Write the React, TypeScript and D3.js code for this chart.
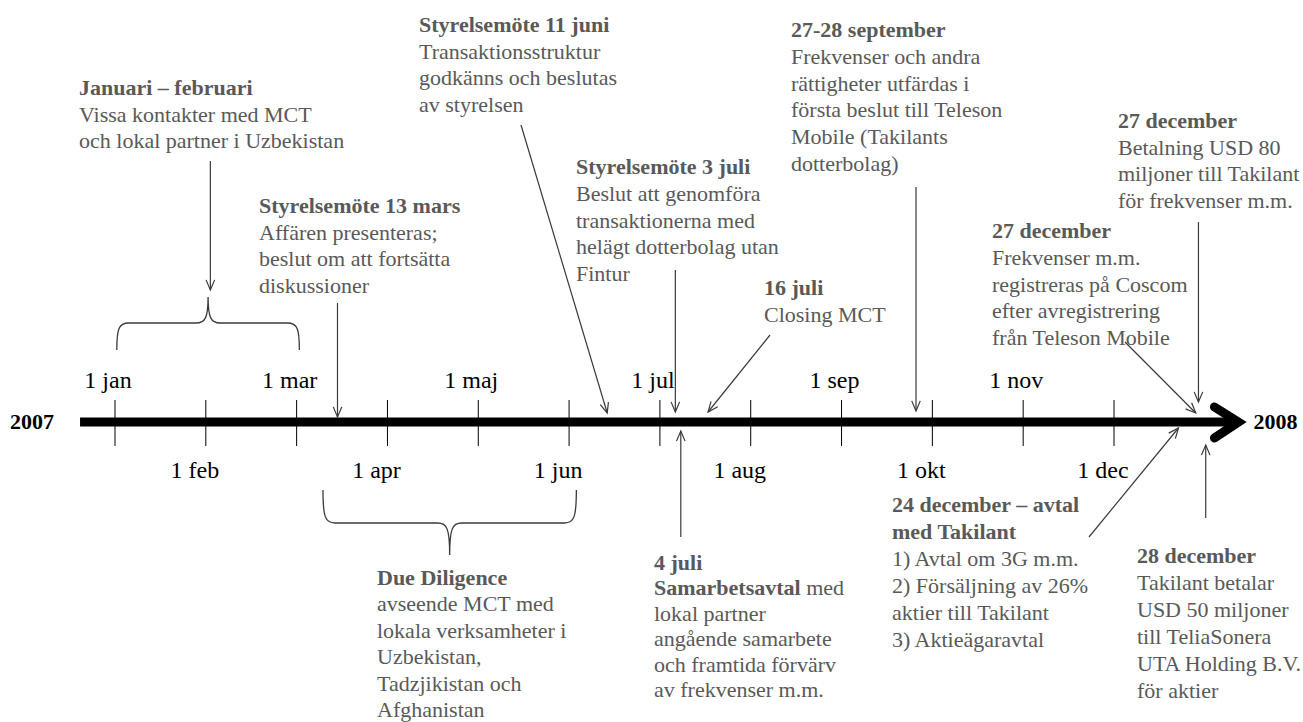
import React from 'react';
import * as d3 from 'd3';

const W = 1303;
const H = 722;

// axis ticks, one per month, evenly spaced
const months = ['1 jan', '1 feb', '1 mar', '1 apr', '1 maj', '1 jun', '1 jul', '1 aug', '1 sep', '1 okt', '1 nov', '1 dec'];
const yearStart = '2007';
const yearEnd = '2008';

// annotation texts, "**...**" is bold
const eventTexts = [
  ['**Januari – februari**', 'Vissa kontakter med MCT', 'och lokal partner i Uzbekistan'],
  ['**Styrelsemöte 13 mars**', 'Affären presenteras;', 'beslut om att fortsätta', 'diskussioner'],
  ['**Styrelsemöte 11 juni**', 'Transaktionsstruktur', 'godkänns och beslutas', 'av styrelsen'],
  ['**Styrelsemöte 3 juli**', 'Beslut att genomföra', 'transaktionerna med', 'helägt dotterbolag utan', 'Fintur'],
  ['**16 juli**', 'Closing MCT'],
  ['**27-28 september**', 'Frekvenser och andra', 'rättigheter utfärdas i', 'första beslut till Teleson', 'Mobile (Takilants', 'dotterbolag)'],
  ['**27 december**', 'Frekvenser m.m.', 'registreras på Coscom', 'efter avregistrering', 'från Teleson Mobile'],
  ['**27 december**', 'Betalning USD 80', 'miljoner till Takilant', 'för frekvenser m.m.'],
  ['**Due Diligence**', 'avseende MCT med', 'lokala verksamheter i', 'Uzbekistan,', 'Tadzjikistan och', 'Afghanistan'],
  ['**4 juli**', '**Samarbetsavtal** med', 'lokal partner', 'angående samarbete', 'och framtida förvärv', 'av frekvenser m.m.'],
  ['**24 december – avtal**', '**med Takilant**', '1) Avtal om 3G m.m.', '2) Försäljning av 26%', 'aktier till Takilant', '3) Aktieägaravtal'],
  ['**28 december**', 'Takilant betalar', 'USD 50 miljoner', 'till TeliaSonera', 'UTA Holding B.V.', 'för aktier'],
];

// where each event points on the axis, in months from 1 jan
const eventAt = [1.05, 2.45, 5.42, 6.17, 6.53, 8.82, 11.9, 11.93, 3.68, 6.23, 11.71, 12.01];

// bracketed periods, months from 1 jan
const periods = [[0.02, 2.03], [2.29, 5.08]];

// layout: text block [left, first baseline, line height]
const textPos = [
  [79, 95, 26.5], [259, 213, 26.7], [419, 32, 26.7], [576, 174, 26.8], [764, 295, 27],
  [791, 37, 26.8], [992, 238, 26.8], [1118, 128, 26.7], [377, 585, 26.4], [654, 570, 25.4],
  [892, 512, 27], [1137, 563, 27],
];
// layout: arrow tail [x or null for vertical, y] and tip y (null = no arrow)
const arrowTail: ([number | null, number] | null)[] = [
  [null, 161], [null, 303], [521, 125], [null, 270], [770, 335],
  [null, 187], [1125, 342], [null, 222], null, [null, 537],
  [1089, 537], [null, 518],
];
const arrowTipY = [290, 417, 413, 412, 412, 411, 413, 402, 0, 431, 428, 445];
// layout: braces [end y, middle y, tip y]
const braceY = [[350, 323, 297], [490, 523, 555]];

const axisY = 422;
const textColor = '#595959';
const font = '"Liberation Serif", "Times New Roman", serif';

function headPath(x1: number, y1: number, x2: number, y2: number) {
  const a = Math.atan2(y2 - y1, x2 - x1);
  const len = 11, ang = 0.4;
  const p = d3.path();
  p.moveTo(x2 - len * Math.cos(a - ang), y2 - len * Math.sin(a - ang));
  p.lineTo(x2, y2);
  p.lineTo(x2 - len * Math.cos(a + ang), y2 - len * Math.sin(a + ang));
  return p.toString();
}

function bracePath(x0: number, x1: number, yEnd: number, yMid: number, yTip: number) {
  const cx = (x0 + x1) / 2;
  const s = Math.sign(yTip - yMid);
  const p = d3.path();
  p.moveTo(x0, yEnd);
  p.bezierCurveTo(x0, yMid + (yEnd - yMid) * 0.2, x0 + 2, yMid, x0 + 12, yMid);
  p.lineTo(cx - 12, yMid);
  p.bezierCurveTo(cx - 3, yMid, cx, yMid + s * 5, cx, yTip);
  p.bezierCurveTo(cx, yMid + s * 5, cx + 3, yMid, cx + 12, yMid);
  p.lineTo(x1 - 12, yMid);
  p.bezierCurveTo(x1 - 2, yMid, x1, yMid + (yEnd - yMid) * 0.2, x1, yEnd);
  return p.toString();
}

function Line({ text }: { text: string }) {
  const parts = text.split('**');
  return (
    <>
      {parts.map((t, i) => t === '' ? null : (
        <tspan key={i} fontWeight={i % 2 === 1 ? 'bold' : 'normal'}>{t}</tspan>
      ))}
    </>
  );
}

export default function App() {
  const x = d3.scaleLinear().domain([0, 11]).range([115, 1114]);
  const axisStart = x(-0.385);
  const axisEnd = x(12.37);

  return (
    <div style={{ position: 'absolute', left: 0, top: 0, background: '#fff' }}>
      <svg width={W} height={H} style={{ display: 'block', fontFamily: font }}>
        <rect width={W} height={H} fill="#fff" />

        {/* main time axis */}
        <line x1={axisStart} x2={axisEnd} y1={axisY} y2={axisY} stroke="#000" strokeWidth={9} />
        <polyline
          points={`${axisEnd - 24},${axisY - 15} ${axisEnd},${axisY} ${axisEnd - 24},${axisY + 16}`}
          fill="none" stroke="#000" strokeWidth={9} strokeLinecap="round" strokeLinejoin="miter"
        />
        <text x={10} y={429} fontSize={22} fontWeight="bold" fill="#000">{yearStart}</text>
        <text x={axisEnd + 15} y={429} fontSize={22} fontWeight="bold" fill="#000">{yearEnd}</text>

        {months.map((m, i) => (
          <g key={m}>
            <line x1={x(i)} x2={x(i)} y1={400} y2={446} stroke="#000" strokeWidth={1} />
            <text
              x={x(i) + (i % 2 === 0 ? -7 : -11)}
              y={i % 2 === 0 ? 388 : 478}
              fontSize={24} textAnchor="middle" fill="#000"
            >{m}</text>
          </g>
        ))}

        {/* braces */}
        {periods.map((p, i) => (
          <path key={i} d={bracePath(x(p[0]), x(p[1]), braceY[i][0], braceY[i][1], braceY[i][2])}
            fill="none" stroke="#3a3a3a" strokeWidth={1.3} />
        ))}

        {/* arrows */}
        {eventAt.map((v, i) => {
          const tail = arrowTail[i];
          if (!tail) return null;
          const tx = x(v);
          const ty = arrowTipY[i];
          const sx = tail[0] === null ? tx : tail[0];
          const sy = tail[1];
          return (
            <g key={i} stroke="#3a3a3a" strokeWidth={1.2} fill="none">
              <line x1={sx} y1={sy} x2={tx} y2={ty} />
              <path d={headPath(sx, sy, tx, ty)} />
            </g>
          );
        })}

        {/* annotation texts */}
        {eventTexts.map((lines, i) => (
          <text key={i} fontSize={22} fill={textColor}>
            {lines.map((l, j) => (
              <tspan key={j} x={textPos[i][0]} y={textPos[i][1] + j * textPos[i][2]}>
                <Line text={l} />
              </tspan>
            ))}
          </text>
        ))}
      </svg>
    </div>
  );
}
